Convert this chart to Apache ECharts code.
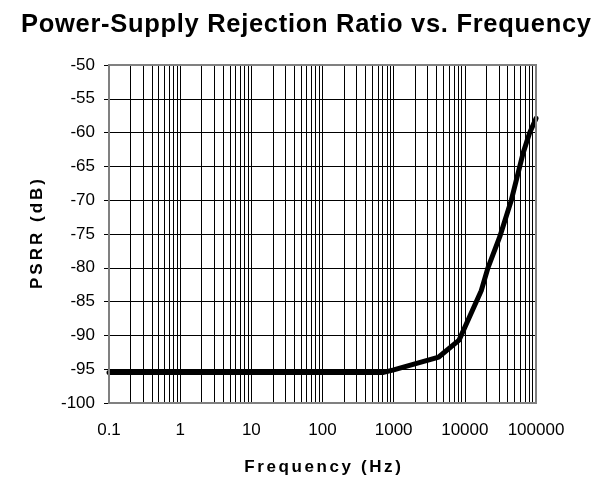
<!DOCTYPE html>
<html>
<head>
<meta charset="utf-8">
<style>
  html, body { margin: 0; padding: 0; background: #fff; }
  #chart { width: 612px; height: 481px; }
</style>
<script src="https://cdn.jsdelivr.net/npm/echarts@6/dist/echarts.min.js"></script>
</head>
<body>
<div id="chart"></div>
<script>
// 数据
const titleText = 'Power-Supply Rejection Ratio vs. Frequency';
const xName = 'Frequency (Hz)';
const yName = 'PSRR (dB)';
const freqHz = [0.1, 700, 1000, 4300, 8300, 17000, 21000, 31000, 45000, 66000, 81000, 100000];
const psrrDb = [-95.5, -95.5, -95.1, -93.2, -90.7, -83.4, -80.1, -75.4, -70.0, -63.0, -60.1, -57.9];
const xTickLabels = ['0.1', '1', '10', '100', '1000', '10000', '100000'];
const minorSteps = [2, 3, 4, 5, 6, 7, 8, 9];
const decades = [0.1, 1, 10, 100, 1000, 10000];

const fontFamily = '"Liberation Sans", Arial, sans-serif';

// 字间距：逐字绘制（只用于标题和轴名）
const spacing = {};
spacing[titleText] = 0.7;
spacing[xName] = 2.6;
spacing[yName] = 3;
const origFillText = CanvasRenderingContext2D.prototype.fillText;
CanvasRenderingContext2D.prototype.fillText = function (text, x, y, maxWidth) {
  const sp = spacing[text];
  if (sp !== undefined) {
    const chars = Array.from(text);
    const widths = chars.map(c => this.measureText(c).width);
    const total = widths.reduce((a, b) => a + b, 0) + sp * (chars.length - 1);
    const align = this.textAlign;
    let cx = x;
    if (align === 'center') cx = x - total / 2;
    else if (align === 'right' || align === 'end') cx = x - total;
    this.textAlign = 'left';
    chars.forEach((c, i) => {
      origFillText.call(this, c, cx, y);
      cx += widths[i] + sp;
    });
    this.textAlign = align;
    return;
  }
  if (maxWidth === undefined) {
    origFillText.call(this, text, x, y);
  } else {
    origFillText.call(this, text, x, y, maxWidth);
  }
};

// 次网格线 (2..9 each decade)
const minorLines = [];
decades.forEach(d => {
  minorSteps.forEach(m => minorLines.push({ xAxis: +(d * m).toPrecision(6) }));
});

const chart = echarts.init(document.getElementById('chart'));

const options = {
  animation: false,
  backgroundColor: '#fff',
  title: {
    text: titleText,
    left: 'center',
    top: 7,
    textStyle: { fontFamily, fontSize: 25.5, fontWeight: 'bold', color: '#000' }
  },
  grid: {
    show: true,
    left: 109,
    top: 65,
    width: 427,
    height: 338,
    borderColor: '#808080',
    borderWidth: 2,
    backgroundColor: 'transparent',
    z: 10
  },
  xAxis: {
    type: 'log',
    logBase: 10,
    min: 0.1,
    max: 100000,
    name: xName,
    nameLocation: 'middle',
    nameGap: 56,
    nameTextStyle: { fontFamily, fontSize: 17, fontWeight: 'bold', color: '#000' },
    axisLine: { show: false },
    axisTick: { show: false },
    axisLabel: {
      margin: 19,
      fontFamily,
      fontSize: 17,
      color: '#000',
      formatter: (v, i) => xTickLabels[i]
    },
    splitLine: { show: true, lineStyle: { color: '#000', width: 1 } }
  },
  yAxis: {
    type: 'value',
    min: -100,
    max: -50,
    interval: 5,
    name: yName,
    nameLocation: 'middle',
    nameGap: 63,
    nameTextStyle: { fontFamily, fontSize: 17, fontWeight: 'bold', color: '#000' },
    axisLine: { show: false },
    axisTick: { show: true, length: 5, lineStyle: { color: '#000' } },
    axisLabel: { margin: 14, fontFamily, fontSize: 17, color: '#000' },
    splitLine: { show: true, lineStyle: { color: '#000', width: 1 } }
  },
  series: [
    {
      type: 'line',
      z: 3,
      data: freqHz.map((f, i) => [f, psrrDb[i]]),
      showSymbol: false,
      smooth: false,
      lineStyle: { color: '#000', width: 5, join: 'round', cap: 'round' },
      markLine: {
        silent: true,
        z: 1,
        symbol: ['none', 'none'],
        label: { show: false },
        lineStyle: { color: '#000', width: 1, type: 'solid' },
        data: minorLines
      }
    }
  ]
};

chart.setOption(options);
</script>
</body>
</html>
